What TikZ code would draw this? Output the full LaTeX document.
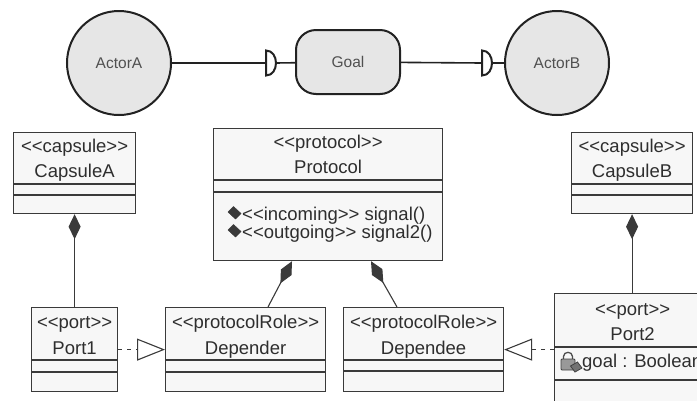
\documentclass[tikz,border=0pt]{standalone}
\usepackage{fontspec}
\setmainfont{Liberation Sans}
\usetikzlibrary{arrows.meta,calc}
\definecolor{boxline}{HTML}{3A3A3A}
\definecolor{boxfill}{HTML}{F7F7F7}
\definecolor{actfill}{HTML}{E6E6E6}
\definecolor{actline}{HTML}{222222}
\definecolor{txtc}{HTML}{2E2E2E}
\definecolor{acttxt}{HTML}{505050}
\newcommand\stereo[1]{<{}<#1>{}>}
\begin{document}
\begin{tikzpicture}[x=1pt,y=-1pt,
  classbox/.style={draw=boxline, fill=boxfill, line width=1.2pt, anchor=north west, inner sep=0pt, rectangle},
  sepline/.style={draw=boxline, line width=1.2pt},
  txt/.style={font=\fontsize{18.5}{20}\selectfont, text=txtc, anchor=base, inner sep=0pt},
  actor/.style={circle, draw=actline, fill=actfill, line width=2pt, minimum size=104pt, inner sep=0pt, font=\fontsize{15.5}{18}\selectfont, text=acttxt},
  goalbox/.style={rectangle, rounded corners=20pt, draw=actline, fill=actfill, line width=2pt, minimum width=104pt, minimum height=64pt, inner sep=0pt, font=\fontsize{15.5}{18}\selectfont, text=acttxt},
  conn/.style={draw=actline, line width=1.6pt},
  dshape/.style={draw=actline, line width=2pt, fill=white},
  comp/.style={draw=boxline, line width=1.1pt, -{Diamond[length=25pt,width=12pt,fill=boxline]}},
  real/.style={draw=boxline, line width=1.1pt, dash pattern=on 4pt off 5pt, -{Triangle[open,length=28pt,width=22pt,fill=white]}},
  opicon/.style={fill=boxline, draw=boxline, line width=0.5pt, line join=round}
]
\useasboundingbox (0,0) rectangle (697,400);
\fill[white] (0,0) rectangle (697,400);
\clip (0,0) rectangle (697,400);

% top row
\node[actor] (actA) at (119,63) {ActorA};
\node[actor] (actB) at (557,63) {ActorB};
\node[goalbox] (goal) at (348,62) {Goal};
\coordinate (d1) at (266,63);
\coordinate (d1e) at (276,63);
\coordinate (d2) at (482,63);
\coordinate (d2e) at (492,63);
\draw[conn] (actA) -- (d1);
\draw[conn] (d1e) -- (goal);
\draw[conn] (goal) -- (d2);
\draw[conn] (d2e) -- (actB);
\draw[dshape] (266,50.5) .. controls (279.3,50.5) and (279.3,75.5) .. (266,75.5) -- cycle;
\draw[dshape] (482,50.5) .. controls (495.3,50.5) and (495.3,75.5) .. (482,75.5) -- cycle;

% classes
\node[classbox, minimum width=122pt, minimum height=81pt] (capA) at (13,132) {};
\node[classbox, minimum width=229pt, minimum height=132pt] (protocol) at (213,128) {};
\node[classbox, minimum width=121pt, minimum height=81pt] (capB) at (571,132) {};
\node[classbox, minimum width=86pt, minimum height=84pt] (port1) at (31,307) {};
\node[classbox, minimum width=160pt, minimum height=84pt] (depender) at (165,307) {};
\node[classbox, minimum width=160pt, minimum height=84pt] (dependee) at (343,307) {};
\node[classbox, minimum width=156pt, minimum height=130pt] (port2) at (554,293) {};

% compartments
\foreach \n/\a/\b in {capA/52/63, protocol/52/64, capB/52/63, port1/53/65, depender/53/65, dependee/53/64, port2/54/87}{
  \draw[sepline] ($(\n.north west)+(0,\a)$) -- ($(\n.north east)+(0,\a)$);
  \draw[sepline] ($(\n.north west)+(0,\b)$) -- ($(\n.north east)+(0,\b)$);
}

% texts
\node[txt] at ($(capA.north)+(0,20)$) {\stereo{capsule}};
\node[txt] at ($(capA.north)+(0,45)$) {CapsuleA};
\node[txt] at ($(protocol.north)+(0,20)$) {\stereo{protocol}};
\node[txt] at ($(protocol.north)+(0,45)$) {Protocol};
\node[txt] at ($(capB.north)+(0,20)$) {\stereo{capsule}};
\node[txt] at ($(capB.north)+(0,45)$) {CapsuleB};
\node[txt] at ($(port1.north)+(0,21)$) {\stereo{port}};
\node[txt] at ($(port1.north)+(0,47)$) {Port1};
\node[txt] at ($(depender.north)+(0,21)$) {\stereo{protocolRole}};
\node[txt] at ($(depender.north)+(0,47)$) {Depender};
\node[txt] at ($(dependee.north)+(0,21)$) {\stereo{protocolRole}};
\node[txt] at ($(dependee.north)+(0,47)$) {Dependee};
\node[txt] at ($(port2.north)+(0,22)$) {\stereo{port}};
\node[txt] at ($(port2.north)+(0,47)$) {Port2};

% operations
\node[txt, anchor=base west] (op1) at (242,220) {\stereo{incoming} signal()};
\node[txt, anchor=base west] (op2) at (242,238) {\stereo{outgoing} signal2()};
\path[opicon] (228,212) -- (233.5,206.5) -- (241,213.5) -- (235.5,219) -- cycle;
\path[opicon] (228,230) -- (233.5,224.5) -- (241,231.5) -- (235.5,237) -- cycle;

% attribute with lock icon
\draw[draw=black!70, line width=1.3pt] (563.5,360) -- (563.5,356.5) .. controls (563.5,351) and (572.5,351) .. (572.5,356.5) -- (572.5,360);
\filldraw[fill=black!40, draw=black!75, line width=0.8pt, rounded corners=1pt] (561,359) rectangle (575,370);
\filldraw[fill=black!55, draw=black!75, line width=0.8pt] (570.5,366) -- (577.5,362) -- (582,368) -- (575,372) -- cycle;
\node[txt, anchor=base west] (attr) at (582,367) {goal : Boolean};

% connectors
\draw[comp] (port1.north) -- (capA.south);
\draw[comp] (capB.south |- port2.north) -- (capB.south);
\coordinate (pl) at ($(protocol.south west)+(79,0)$);
\coordinate (dl) at ($(depender.north west)+(103,0)$);
\coordinate (pr) at ($(protocol.south west)+(158,0)$);
\coordinate (dr) at ($(dependee.north west)+(54,0)$);
\draw[comp] (dl) -- (pl);
\draw[comp] (dr) -- (pr);
\draw[real] (port1.east) -- (depender.west);
\draw[real] (port2.west |- dependee.east) -- (dependee.east);
\end{tikzpicture}
\end{document}
